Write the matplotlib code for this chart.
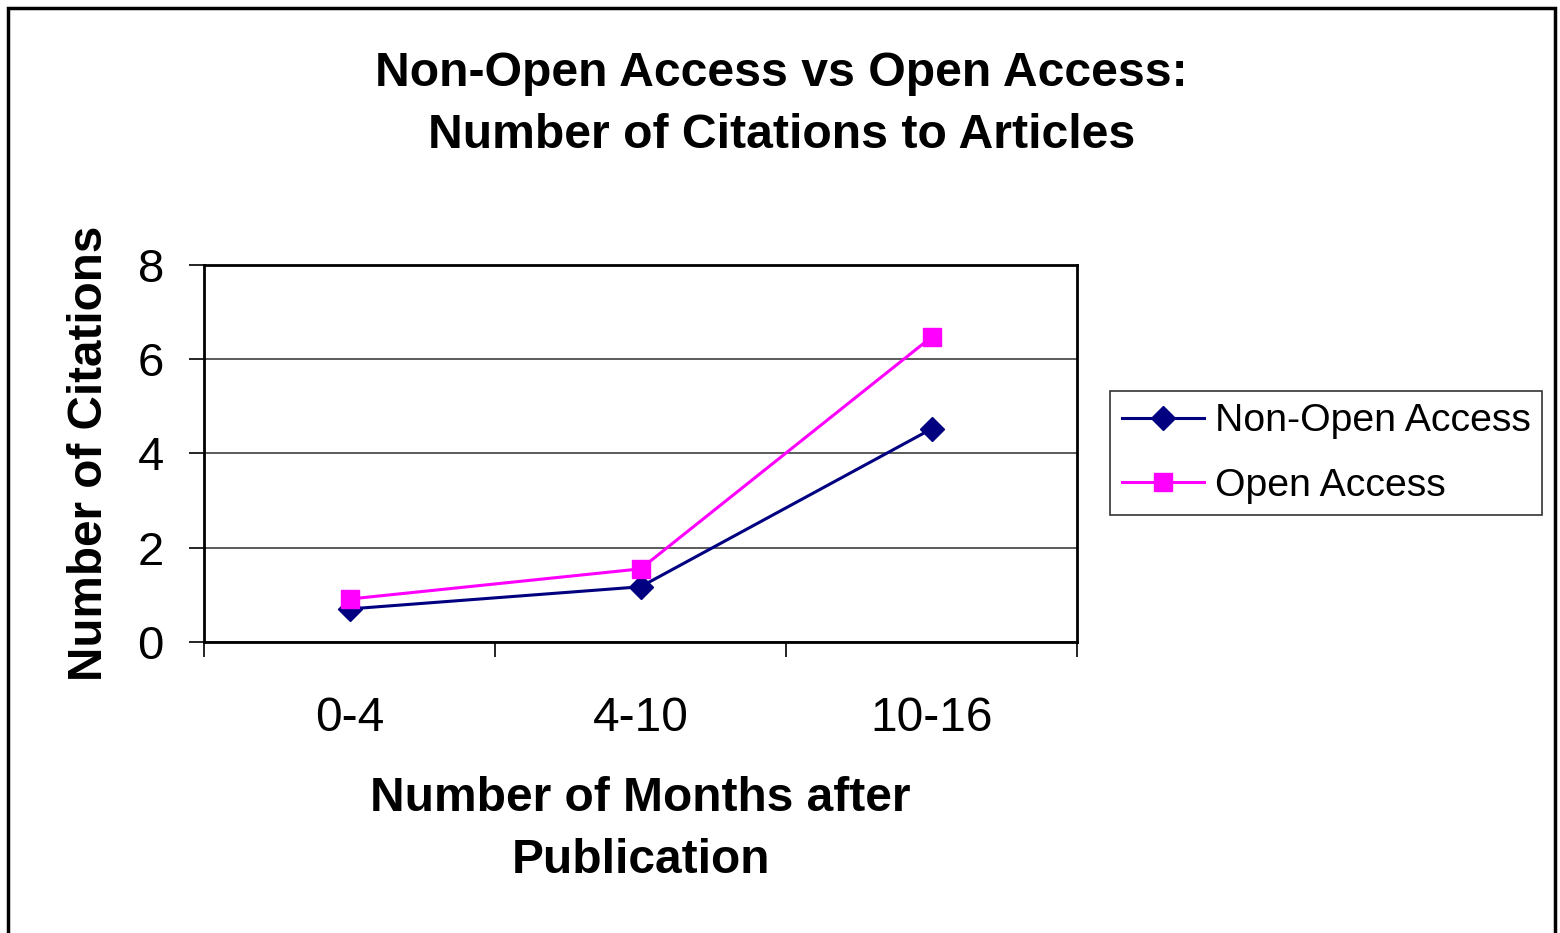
import numpy as np
import matplotlib.pyplot as plt
from matplotlib.patches import Rectangle

plt.rcParams['font.family'] = ['Liberation Sans', 'DejaVu Sans']

periods = ['0-4', '4-10', '10-16']
non_open = [0.70, 1.17, 4.52]
open_acc = [0.91, 1.55, 6.47]

fig = plt.figure(figsize=(15.6, 9.33), dpi=100)
ax = fig.add_axes([0.1308, 0.312, 0.5596, 0.404])

x = np.arange(len(periods))
ax.plot(x, non_open, color='#000080', lw=2.2, marker='D', ms=12,
        label='Non-Open Access', zorder=3)
ax.plot(x, open_acc, color='#FF00FF', lw=2.2, marker='s', ms=13,
        label='Open Access', zorder=3)

ax.set_xlim(-0.5, 2.5)
ax.set_ylim(0, 8)
ax.set_yticks([0, 2, 4, 6, 8])
ax.set_xticks(x)
ax.set_xticklabels(periods)
ax.set_xticks([-0.5, 0.5, 1.5, 2.5], minor=True)
ax.tick_params(axis='x', which='major', length=0, pad=39, labelsize=34.5)
ax.tick_params(axis='x', which='minor', length=11, width=1.2, direction='out')
ax.tick_params(axis='y', length=11, width=1.2, direction='out', pad=18, labelsize=34)
ax.grid(axis='y', color='#404040', lw=1.2)
ax.set_axisbelow(True)
for s in ax.spines.values():
    s.set_linewidth(2)

ax.set_xlabel('Number of Months after\nPublication', fontsize=34.5,
              fontweight='bold', linespacing=1.5)
ax.xaxis.set_label_coords(0.5, -0.355)
ax.set_ylabel('Number of Citations', fontsize=34.3, fontweight='bold')
ax.yaxis.set_label_coords(-0.106, 0.5)

fig.text(0.501, 0.888, 'Non-Open Access vs Open Access:\nNumber of Citations to Articles',
         ha='center', va='center', fontsize=34.7, fontweight='bold', linespacing=1.49)

leg = ax.legend(loc='center left', bbox_to_anchor=(1.0378, 0.5), fontsize=28.3,
                frameon=True, fancybox=False, edgecolor='black', handlelength=2.1,
                borderpad=0.3, labelspacing=0.72, handletextpad=0.26, borderaxespad=0)
leg.get_frame().set_linewidth(1.2)

fig.patches.append(Rectangle((8 / 1560, -0.05), 1547 / 1560, 1.05 - 8 / 933,
                             transform=fig.transFigure, fill=False,
                             edgecolor='black', lw=2.5))

fig.savefig('out.png', dpi=100)
